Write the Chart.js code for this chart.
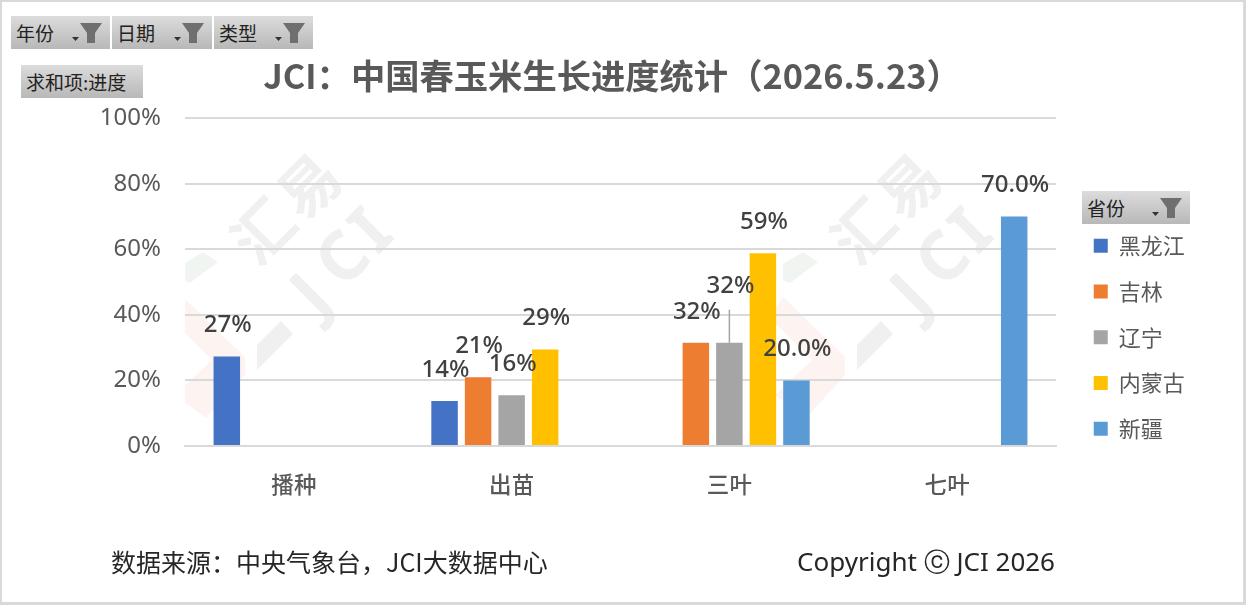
<!DOCTYPE html>
<html lang="zh">
<head>
<meta charset="utf-8">
<title>JCI：中国春玉米生长进度统计</title>
<script src="https://cdn.jsdelivr.net/npm/chart.js@4/dist/chart.umd.min.js"></script>
<style>
html,body{margin:0;padding:0;background:#fff;width:1246px;height:605px;overflow:hidden}
#frame{position:absolute;left:0;top:0;width:1246px;height:605px;box-sizing:border-box;border:2px solid #d9d9d9;border-right-width:3px;border-bottom-width:3px;z-index:3;pointer-events:none}
#wm{position:absolute;left:0;top:0;z-index:0}
#c{position:absolute;left:0;top:0;z-index:1}
.btn{position:absolute;z-index:2;height:33px;box-sizing:border-box;background:linear-gradient(#dcdcdc,#b8b8b8);font:19px/33px "Noto Sans CJK SC",sans-serif;color:#222;padding-left:5px;white-space:nowrap}
.btn svg{position:absolute;right:7px;top:5px}
.note{position:absolute;z-index:2;font:25px/34px "Noto Sans CJK SC",sans-serif;color:#262626;white-space:nowrap}
</style>
</head>
<body>
<svg id="wm" width="1246" height="605" xmlns="http://www.w3.org/2000/svg">
  <defs>
    <clipPath id="plot"><rect x="185" y="118" width="870" height="328"/></clipPath>
    <g id="mark">
      <polygon points="183,264 203,252 218,262 190,283 183,280" fill="#f1f5f2"/>
      <polygon points="183,297 245,357 245,375 206,418 175,395 212,360 170,318" fill="#fdf3f1"/>
      <polygon points="257,370 257,345 281,321 293,334" fill="#f0f0f0"/>
      <g fill="#f0f0f0" text-anchor="middle" dominant-baseline="central">
        <g font-family="'Noto Sans CJK SC',sans-serif" font-weight="700" font-size="60">
          <text transform="translate(260,228) rotate(-45)">汇</text>
          <text transform="translate(306,183) rotate(-45)">易</text>
        </g>
        <g font-family="'Noto Sans',sans-serif" font-weight="700" font-size="68">
          <text transform="translate(308,292) rotate(-45)">J</text>
          <text transform="translate(340,256) rotate(-45)">C</text>
          <text transform="translate(368,228) rotate(-45)">I</text>
        </g>
      </g>
    </g>
  </defs>
  <g clip-path="url(#plot)">
    <use href="#mark"/>
    <use href="#mark" x="600"/>
  </g>
</svg>
<canvas id="c" width="1246" height="605" style="width:1246px;height:605px"></canvas>

<div class="btn" style="left:11px;top:16px;width:99px">年份<svg width="50" height="24"><polygon points="19,16 26,16 22.5,20" fill="#333"/><polygon points="27,2 49,2 42,12 42,22 34,22 34,12" fill="#6f6f6f"/></svg></div>
<div class="btn" style="left:112px;top:16px;width:100px">日期<svg width="50" height="24"><polygon points="19,16 26,16 22.5,20" fill="#333"/><polygon points="27,2 49,2 42,12 42,22 34,22 34,12" fill="#6f6f6f"/></svg></div>
<div class="btn" style="left:214px;top:16px;width:99px">类型<svg width="50" height="24"><polygon points="19,16 26,16 22.5,20" fill="#333"/><polygon points="27,2 49,2 42,12 42,22 34,22 34,12" fill="#6f6f6f"/></svg></div>
<div class="btn" style="left:21px;top:65px;width:122px">求和项:进度</div>
<div class="btn" style="left:1082px;top:191px;width:108px">省份<svg width="50" height="24"><polygon points="19,16 26,16 22.5,20" fill="#333"/><polygon points="27,2 49,2 42,12 42,22 34,22 34,12" fill="#6f6f6f"/></svg></div>
<div class="note" style="left:111px;top:544px">数据来源：中央气象台，JCI大数据中心</div>
<div class="note" style="right:191px;top:544px;font-family:'Noto Sans','Noto Sans CJK SC',sans-serif;font-size:26px">Copyright <span style="font-family:'DejaVu Sans'">ⓒ</span> JCI 2026</div>
<div id="frame"></div>

<script>
// ---- data ----
const categories = ["播种", "出苗", "三叶", "七叶"];
const seriesNames = ["黑龙江", "吉林", "辽宁", "内蒙古", "新疆"];
const heilongjiang = [27.3, 13.7, null, null];
const jilin        = [null, 21.0, 31.5, null];
const liaoning     = [null, 15.5, 31.5, null];
const neimenggu    = [null, 29.4, 58.8, null];
const xinjiang     = [null, null, 20.0, 70.0];
const yTicks = [0, 20, 40, 60, 80, 100];
const titleText = "JCI：中国春玉米生长进度统计（2026.5.23）";
const seriesValues = [heilongjiang, jilin, liaoning, neimenggu, xinjiang];
const seriesColors = ["#4472C4", "#ED7D31", "#A5A5A5", "#FFC000", "#5B9BD5"];
const labelDigits = [0, 0, 0, 0, 1];

const latin = '"Noto Sans","Noto Sans CJK SC",sans-serif';
const cjk = '"Noto Sans CJK SC",sans-serif';

const valueLabels = {
  id: 'valueLabels',
  afterDatasetsDraw(chart) {
    const ctx = chart.ctx;
    ctx.save();
    ctx.font = '500 24px ' + latin;
    ctx.fillStyle = '#404040';
    ctx.textAlign = 'center';
    ctx.textBaseline = 'middle';
    chart.data.datasets.forEach((ds, i) => {
      chart.getDatasetMeta(i).data.forEach((bar, j) => {
        const v = ds.data[j];
        if (v === null) return;
        // the 辽宁 / 三叶 label was pulled up in the original, with a leader line
        const lifted = (i === 2 && j === 2);
        const y = bar.y - (lifted ? 57 : 31);
        if (lifted) {
          ctx.save();
          ctx.strokeStyle = '#a6a6a6';
          ctx.lineWidth = 1.5;
          ctx.beginPath();
          ctx.moveTo(bar.x, y + 24);
          ctx.lineTo(bar.x, bar.y);
          ctx.stroke();
          ctx.restore();
        }
        ctx.fillText(v.toFixed(labelDigits[i]) + '%', bar.x + 1, y);
      });
    });
    ctx.restore();
  }
};

const placeBoxes = {
  id: 'placeBoxes',
  afterLayout(chart) {
    const l = chart.legend;
    const w = l.right - l.left, h = l.bottom - l.top;
    l.left = 1070; l.right = l.left + w;
    l.top = 211; l.bottom = l.top + h;
    const t = chart.titleBlock;
    t.left = 0; t.right = 1224; t.top = 0; t.bottom = 118;
  }
};

new Chart(document.getElementById('c'), {
  type: 'bar',
  data: {
    labels: categories,
    datasets: seriesNames.map((name, i) => ({
      label: name,
      data: seriesValues[i],
      backgroundColor: seriesColors[i],
      categoryPercentage: 0.77,
      barPercentage: 0.79
    }))
  },
  plugins: [valueLabels, placeBoxes],
  options: {
    responsive: false,
    animation: false,
    devicePixelRatio: 1,
    layout: { padding: { left: 0, right: 190, top: 0, bottom: 82 } },
    plugins: {
      tooltip: { enabled: false },
      title: {
        display: true,
        text: titleText,
        color: '#595959',
        font: { family: cjk, size: 34.3, weight: 'bold' },
        padding: { top: 55, bottom: 22 }
      },
      legend: {
        display: true,
        position: 'chartArea',
        align: 'start',
        onClick: null,
        labels: {
          boxWidth: 14,
          boxHeight: 14,
          padding: 23.75,
          color: '#595959',
          font: { family: cjk, size: 22 }
        }
      }
    },
    scales: {
      x: {
        grid: { display: false, drawTicks: false },
        border: { color: '#d9d9d9', width: 2 },
        ticks: {
          padding: 25,
          color: '#595959',
          font: { family: cjk, size: 22.5, weight: '500' }
        }
      },
      y: {
        min: 0,
        max: 100,
        afterBuildTicks(scale) { scale.ticks = yTicks.map(v => ({ value: v })); },
        afterFit(scale) { scale.width = 185; },
        grid: { color: '#d9d9d9', lineWidth: 2, drawTicks: false },
        border: { display: false },
        ticks: {
          padding: 24,
          color: '#595959',
          font: { family: latin, size: 24 },
          callback: v => v + '%'
        }
      }
    }
  }
});
</script>
</body>
</html>
